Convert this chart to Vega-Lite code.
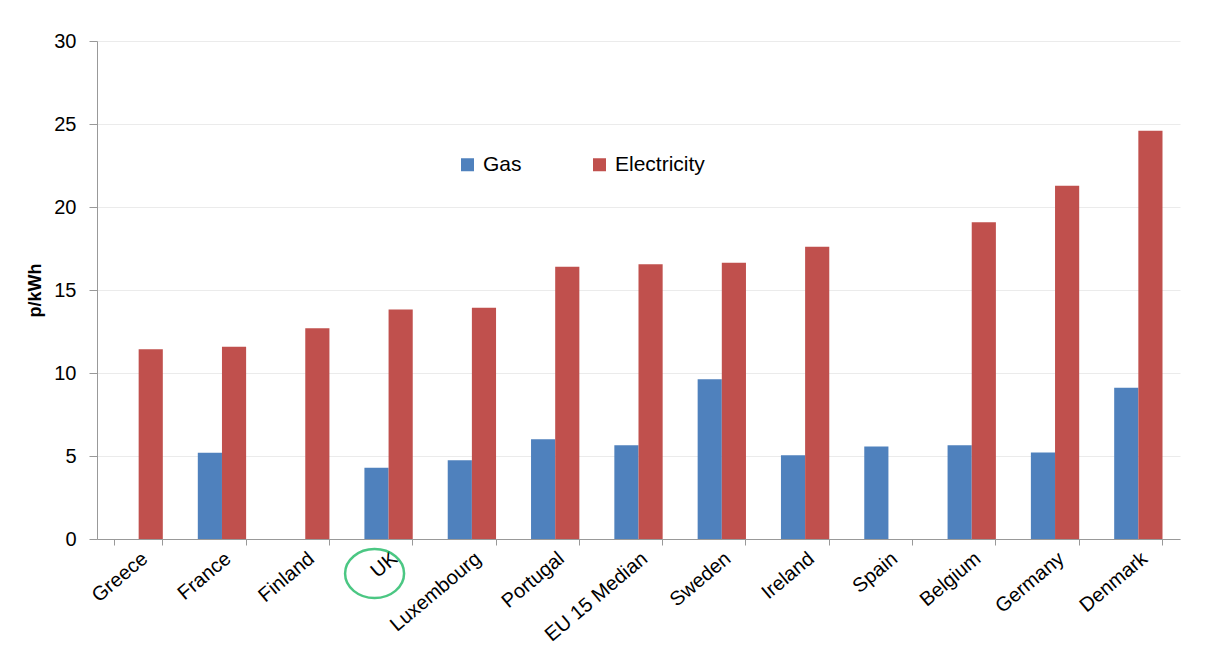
{
  "$schema": "https://vega.github.io/schema/vega-lite/v6.json",
  "width": 1083,
  "height": 498,
  "autosize": {"type": "none"},
  "padding": {"left": 97, "top": 41, "right": 26, "bottom": 132},
  "background": "white",
  "config": {
    "font": "Liberation Sans",
    "view": {"stroke": null},
    "axisY": {
      "tickCount": 6,
      "labelFontSize": 20,
      "labelColor": "#000000",
      "labelPadding": 13,
      "tickSize": 8,
      "tickColor": "#999999",
      "domainColor": "#999999",
      "gridColor": "#ebebeb",
      "titleFontSize": 18,
      "titleFontWeight": "bold",
      "titleColor": "#000000",
      "titlePadding": 9
    },
    "axisX": {"grid": false}
  },
  "datasets": {
    "prices": [
      {"country": "Greece", "fuel": "Electricity", "value": 11.43},
      {"country": "France", "fuel": "Gas", "value": 5.19},
      {"country": "France", "fuel": "Electricity", "value": 11.58},
      {"country": "Finland", "fuel": "Electricity", "value": 12.70},
      {"country": "UK", "fuel": "Gas", "value": 4.29},
      {"country": "UK", "fuel": "Electricity", "value": 13.83},
      {"country": "Luxembourg", "fuel": "Gas", "value": 4.75},
      {"country": "Luxembourg", "fuel": "Electricity", "value": 13.93},
      {"country": "Portugal", "fuel": "Gas", "value": 6.01},
      {"country": "Portugal", "fuel": "Electricity", "value": 16.40},
      {"country": "EU 15 Median", "fuel": "Gas", "value": 5.65},
      {"country": "EU 15 Median", "fuel": "Electricity", "value": 16.55},
      {"country": "Sweden", "fuel": "Gas", "value": 9.63},
      {"country": "Sweden", "fuel": "Electricity", "value": 16.64},
      {"country": "Ireland", "fuel": "Gas", "value": 5.05},
      {"country": "Ireland", "fuel": "Electricity", "value": 17.60},
      {"country": "Spain", "fuel": "Gas", "value": 5.57},
      {"country": "Belgium", "fuel": "Gas", "value": 5.65},
      {"country": "Belgium", "fuel": "Electricity", "value": 19.08},
      {"country": "Germany", "fuel": "Gas", "value": 5.21},
      {"country": "Germany", "fuel": "Electricity", "value": 21.28},
      {"country": "Denmark", "fuel": "Gas", "value": 9.11},
      {"country": "Denmark", "fuel": "Electricity", "value": 24.59}
    ],
    "note": [
      {"country": "UK", "value": -2.08}
    ]
  },
  "layer": [
    {
      "data": {"name": "prices"},
      "mark": {"type": "bar"},
      "encoding": {
        "x": {
          "field": "country",
          "type": "nominal",
          "scale": {
            "domain": ["Greece", "France", "Finland", "UK", "Luxembourg", "Portugal", "EU 15 Median", "Sweden", "Ireland", "Spain", "Belgium", "Germany", "Denmark"],
            "paddingInner": 0.42,
            "paddingOuter": 0.21
          },
          "axis": {
            "orient": "bottom",
            "title": null,
            "labels": false,
            "bandPosition": 1,
            "tickExtra": true,
            "ticks": true,
            "tickSize": 6,
            "tickColor": "#999999",
            "domain": true,
            "domainColor": "#999999"
          }
        },
        "xOffset": {"field": "fuel", "type": "nominal", "sort": ["Gas", "Electricity"]},
        "y": {
          "field": "value",
          "type": "quantitative",
          "scale": {"domain": [0, 30], "nice": false},
          "axis": {"title": "p/kWh"}
        },
        "color": {
          "field": "fuel",
          "type": "nominal",
          "scale": {"domain": ["Gas", "Electricity"], "range": ["#4F81BD", "#C0504D"]},
          "legend": {
            "orient": "none",
            "legendX": 360,
            "legendY": 113,
            "direction": "horizontal",
            "title": null,
            "symbolType": "square",
            "symbolSize": 169,
            "symbolStrokeWidth": 0,
            "labelFontSize": 21,
            "labelColor": "#000000",
            "labelOffset": 5,
            "columnPadding": 67,
            "padding": 0
          }
        }
      }
    },
    {
      "data": {"name": "note"},
      "mark": {
        "type": "point",
        "shape": "M-1,0A1,0.83,0,1,0,1,0A1,0.83,0,1,0,-1,0Z",
        "size": 3481,
        "filled": false,
        "stroke": "#00B050",
        "strokeWidth": 2.5,
        "xOffset": -14
      },
      "encoding": {
        "x": {
          "field": "country",
          "type": "nominal",
          "scale": {
            "domain": ["Greece", "France", "Finland", "UK", "Luxembourg", "Portugal", "EU 15 Median", "Sweden", "Ireland", "Spain", "Belgium", "Germany", "Denmark"],
            "paddingInner": 0.42,
            "paddingOuter": 0.21
          },
          "axis": {
            "orient": "bottom",
            "title": null,
            "ticks": false,
            "domain": false,
            "labelAngle": -40,
            "labelFontSize": 20,
            "labelColor": "#000000",
            "labelPadding": 9
          }
        },
        "y": {
          "field": "value",
          "type": "quantitative",
          "axis": {"title": "p/kWh"}
        }
      }
    }
  ],
  "resolve": {"axis": {"x": "independent"}}
}
